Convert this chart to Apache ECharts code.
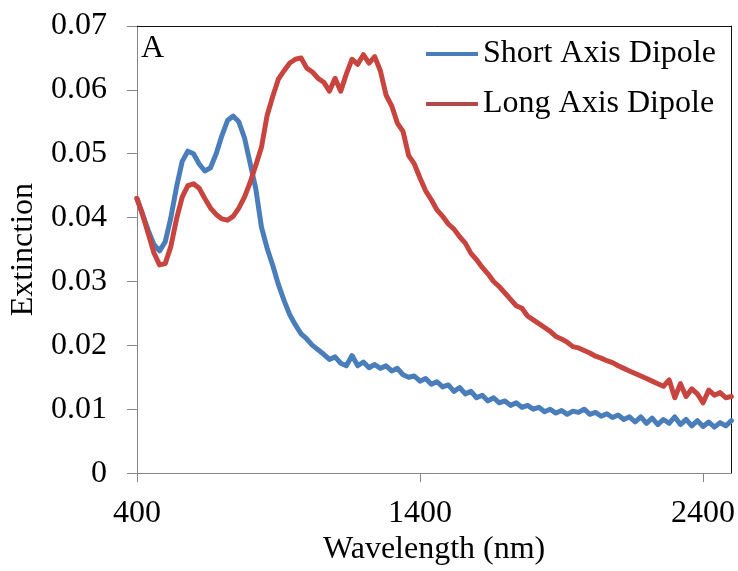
<!DOCTYPE html>
<html>
<head>
<meta charset="utf-8">
<script src="https://cdn.jsdelivr.net/npm/echarts@6/dist/echarts.min.js"></script>
<style>html,body{margin:0;padding:0;background:#fff}#chart{width:738px;height:571px}</style>
</head>
<body>
<div id="chart"></div>
<script>
// Wavelength sampling grid (nm): 400..2500, every 20 nm
const wavelengthNm = Array.from({length: 106}, (_, i) => 400 + 20 * i);

const seriesNames = ['Short Axis Dipole', 'Long Axis Dipole'];

const shortAxisDipole = [
  0.0430, 0.0405, 0.0380, 0.0358, 0.0348, 0.0362, 0.0400, 0.0448, 0.0488, 0.0504,
  0.0500, 0.0484, 0.0473, 0.0478, 0.0500, 0.0528, 0.0552, 0.0559, 0.0550, 0.0525,
  0.0485, 0.0445, 0.0385, 0.0352, 0.0325, 0.0295, 0.0270, 0.0248, 0.0232, 0.0218,
  0.0210, 0.0200, 0.0193, 0.0186, 0.0178, 0.0182, 0.0172, 0.0168, 0.0184, 0.0168,
  0.0174, 0.0165, 0.0170, 0.0164, 0.0168, 0.0160, 0.0164, 0.0154, 0.0150, 0.0152,
  0.0144, 0.0148, 0.0139, 0.0143, 0.0135, 0.0138, 0.0128, 0.0134, 0.0124, 0.0128,
  0.0118, 0.0122, 0.0113, 0.0118, 0.0110, 0.0113, 0.0106, 0.0110, 0.0103, 0.0106,
  0.0100, 0.0103, 0.0096, 0.0100, 0.0094, 0.0098, 0.0092, 0.0097, 0.0095, 0.0100,
  0.0092, 0.0095, 0.0089, 0.0093, 0.0087, 0.0091, 0.0084, 0.0088, 0.0080, 0.0088,
  0.0078, 0.0086, 0.0076, 0.0084, 0.0078, 0.0088, 0.0076, 0.0084, 0.0074, 0.0082,
  0.0073, 0.0080, 0.0072, 0.0079, 0.0074, 0.0082
];

const longAxisDipole = [
  0.0430, 0.0405, 0.0375, 0.0345, 0.0326, 0.0328, 0.0355, 0.0398, 0.0432, 0.0450,
  0.0453, 0.0446, 0.0430, 0.0415, 0.0405, 0.0398, 0.0396, 0.0402, 0.0415, 0.0432,
  0.0455, 0.0482, 0.0510, 0.0560, 0.0590, 0.0617, 0.0630, 0.0642, 0.0648, 0.0650,
  0.0634, 0.0628, 0.0618, 0.0612, 0.0598, 0.0618, 0.0598, 0.0625, 0.0648, 0.0640,
  0.0655, 0.0642, 0.0652, 0.0630, 0.0592, 0.0575, 0.0548, 0.0535, 0.0497, 0.0484,
  0.0462, 0.0442, 0.0428, 0.0412, 0.0402, 0.0390, 0.0382, 0.0370, 0.0360, 0.0344,
  0.0334, 0.0322, 0.0312, 0.0300, 0.0292, 0.0282, 0.0272, 0.0262, 0.0258, 0.0246,
  0.0240, 0.0234, 0.0228, 0.0222, 0.0214, 0.0210, 0.0205, 0.0198, 0.0196, 0.0192,
  0.0188, 0.0183, 0.0180, 0.0176, 0.0173, 0.0168, 0.0164, 0.0160, 0.0156, 0.0152,
  0.0148, 0.0144, 0.0140, 0.0136, 0.0146, 0.0118, 0.0140, 0.0120, 0.0132, 0.0124,
  0.0110, 0.0130, 0.0122, 0.0126, 0.0118, 0.0120
];

const xTickValues = [400, 1400, 2400];
const yTickValues = [0, 0.01, 0.02, 0.03, 0.04, 0.05, 0.06, 0.07];

const FONT = '"Liberation Serif", "Times New Roman", serif';
const AXIS_GRAY = '#868686';

const toPairs = (ys) => wavelengthNm.map((x, i) => [x, ys[i]]);

const chart = echarts.init(document.getElementById('chart'), null, {renderer: 'canvas'});
chart.setOption({
  animation: false,
  backgroundColor: '#fff',
  grid: {left: 135, right: 5, top: 26, bottom: 94, containLabel: false},
  legend: {
    orient: 'vertical',
    left: 421,
    top: 33,
    icon: 'rect',
    itemWidth: 52,
    itemHeight: 4,
    itemGap: 18,
    textStyle: {fontFamily: FONT, fontSize: 32, color: '#000'},
    data: [
      {name: seriesNames[0], itemStyle: {color: '#4a7ebb'}},
      {name: seriesNames[1], itemStyle: {color: '#b04a4a'}}
    ]
  },
  graphic: [{
    type: 'text', left: 141, top: 33,
    style: {text: 'A', fontFamily: FONT, fontSize: 32, fill: '#000'}
  }],
  xAxis: [{
    type: 'value', min: 400, max: 2500,
    name: 'Wavelength (nm)', nameLocation: 'middle', nameGap: 60,
    nameTextStyle: {fontFamily: FONT, fontSize: 32, color: '#000'},
    axisLine: {show: true, lineStyle: {color: AXIS_GRAY, width: 1}},
    axisTick: {show: true, length: 9, inside: false, customValues: xTickValues, lineStyle: {color: AXIS_GRAY}},
    axisLabel: {
      customValues: xTickValues, margin: 24, fontFamily: FONT, fontSize: 32, color: '#000',
      formatter: (v) => String(v)
    },
    splitLine: {show: false}
  }, {
    type: 'value', position: 'top', min: 400, max: 2500,
    axisLine: {show: true, onZero: false, lineStyle: {color: '#111', width: 1}},
    axisTick: {show: false}, axisLabel: {show: false}, splitLine: {show: false}
  }],
  yAxis: [{
    type: 'value', min: 0, max: 0.07, interval: 0.01,
    name: 'Extinction', nameLocation: 'middle', nameGap: 93,
    nameTextStyle: {fontFamily: FONT, fontSize: 32, color: '#000'},
    axisLine: {show: true, onZero: false, lineStyle: {color: AXIS_GRAY, width: 1}},
    axisTick: {show: true, length: 10, inside: false, lineStyle: {color: AXIS_GRAY}},
    axisLabel: {
      margin: 30, fontFamily: FONT, fontSize: 32, color: '#000',
      formatter: (v) => (v === 0 ? '0' : v.toFixed(2))
    },
    splitLine: {show: false}
  }, {
    type: 'value', position: 'right', min: 0, max: 0.07, interval: 0.01,
    axisLine: {show: true, onZero: false, lineStyle: {color: '#111', width: 1}},
    axisTick: {show: false}, axisLabel: {show: false}, splitLine: {show: false}
  }],
  series: [{
    name: seriesNames[0], type: 'line', data: toPairs(shortAxisDipole),
    showSymbol: false, symbol: 'none', smooth: false,
    lineStyle: {color: '#4a7ebb', width: 5, join: 'round', cap: 'round'},
    itemStyle: {color: '#4a7ebb'}
  }, {
    name: seriesNames[1], type: 'line', data: toPairs(longAxisDipole),
    showSymbol: false, symbol: 'none', smooth: false,
    lineStyle: {color: '#c8443f', width: 5, join: 'round', cap: 'round'},
    itemStyle: {color: '#c8443f'}
  }]
});
</script>
</body>
</html>
